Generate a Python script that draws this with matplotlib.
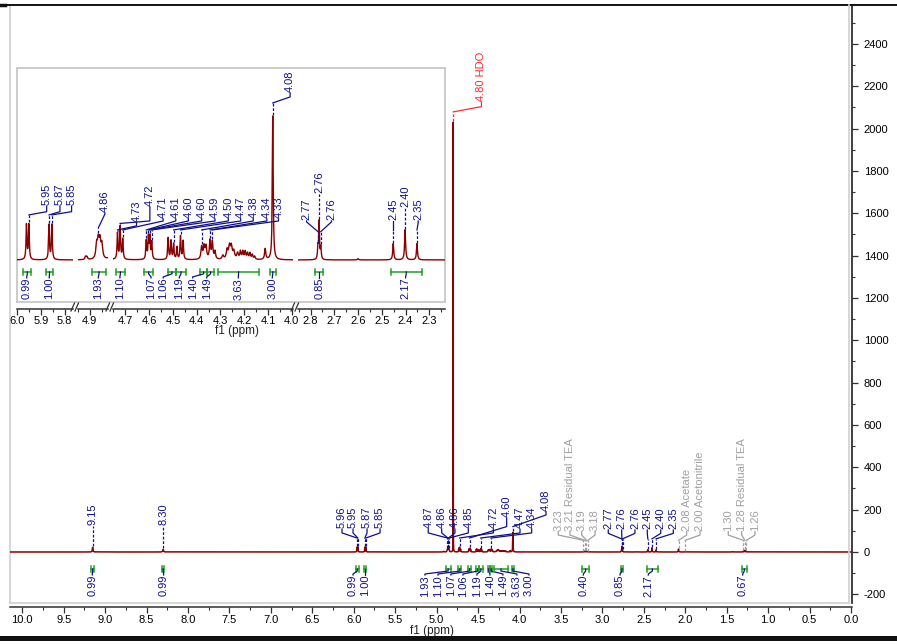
import numpy as np
import matplotlib
matplotlib.use("Agg")
import matplotlib.pyplot as plt
from matplotlib.ticker import MultipleLocator, FormatStrFormatter

plt.rcParams["font.family"] = ["Liberation Sans", "DejaVu Sans"]
plt.rcParams["font.size"] = 8
plt.rcParams["axes.unicode_minus"] = False

# ---------------- 1H signals: shift (ppm), height, half width (ppm) ----------------
sig_ppm = [9.150, 8.300,
           5.961, 5.951, 5.866, 5.854,
           4.918, 4.912, 4.871, 4.864, 4.857, 4.849,
           4.800,
           4.733, 4.722, 4.711,
           4.612, 4.603, 4.597, 4.589,
           4.520, 4.508, 4.497, 4.483, 4.468, 4.457,
           4.379, 4.369, 4.361, 4.344, 4.334, 4.323,
           4.290, 4.272, 4.262, 4.254, 4.244, 4.228, 4.216, 4.206, 4.196, 4.186,
           4.176, 4.166, 4.156,
           4.112, 4.080,
           3.228, 3.210, 3.192, 3.176,
           2.769, 2.764, 2.757, 2.600,
           2.452, 2.402, 2.352,
           2.081, 2.001, 1.430,
           1.298, 1.281, 1.263]
sig_height = [22, 12,
              22.5, 22.5, 22.5, 22.5,
              2.0, 1.8, 9, 11, 11, 9,
              2030,
              17, 21, 13,
              12, 14, 14, 11,
              14, 12, 10, 8, 15, 12,
              8, 8, 8, 12, 11, 5,
              2.5, 6, 8, 8, 5, 4, 5, 5, 5, 4,
              4, 3, 2,
              7, 93,
              2, 4, 4, 2,
              8, 24, 8, 0.8,
              10.5, 19.5, 10.5,
              14, 2, 1.5,
              4, 8, 4]
sig_hwhm = [0.004, 0.005,
            0.0022, 0.0022, 0.0022, 0.0022,
            0.003, 0.003, 0.004, 0.004, 0.004, 0.004,
            0.0005,
            0.0022, 0.0022, 0.0022,
            0.0022, 0.0022, 0.0022, 0.0022,
            0.0022, 0.0022, 0.0022, 0.0022, 0.0022, 0.0022,
            0.0035, 0.0035, 0.0035, 0.003, 0.003, 0.003,
            0.004, 0.004, 0.004, 0.004, 0.004, 0.004, 0.003, 0.003, 0.003, 0.003,
            0.003, 0.003, 0.003,
            0.003, 0.0022,
            0.003, 0.003, 0.003, 0.003,
            0.0022, 0.0018, 0.0022, 0.003,
            0.0025, 0.0025, 0.0025,
            0.003, 0.003, 0.004,
            0.003, 0.003, 0.003]

# ---------------- annotated shifts ----------------
main_lab_ppm = [9.150, 8.300, 5.961, 5.951, 5.866, 5.854, 4.871, 4.864, 4.857, 4.849,
                4.722, 4.603, 4.468, 4.344, 4.080, 2.769, 2.764, 2.757, 2.452, 2.402, 2.352]
grey_lab_ppm = [3.228, 3.210, 3.192, 3.176, 2.081, 2.001, 1.298, 1.281, 1.263]
grey_lab_name = ["", "Residual TEA", "", "", "Acetate", "Acetonitrile", "", "Residual TEA", ""]
solvent_ppm = 4.800
solvent_name = "HDO"
inset_lab_ppm = [5.951, 5.866, 5.854, 4.864, 4.733, 4.722, 4.711, 4.612, 4.603, 4.597, 4.589,
                 4.497, 4.468, 4.379, 4.344, 4.334, 4.080, 2.769, 2.764, 2.757, 2.452, 2.402, 2.352]

# ---------------- integrals ----------------
int_lo = [9.165, 8.315, 5.975, 5.880, 4.890, 4.740, 4.620, 4.521, 4.487, 4.386, 4.356, 4.310,
          4.092, 3.245, 2.780, 2.463, 1.320]
int_hi = [9.135, 8.285, 5.940, 5.848, 4.832, 4.702, 4.584, 4.487, 4.445, 4.356, 4.327, 4.138,
          4.068, 3.160, 2.748, 2.331, 1.255]
int_val = [0.99, 0.99, 0.99, 1.00, 1.93, 1.10, 1.07, 1.06, 1.19, 1.40, 1.49, 3.63, 3.00,
           0.40, 0.85, 2.17, 0.67]

# ---------------- label placement (ppm of label anchor, connector heights) ----------------
main_lab_x = [9.150, 8.300, 6.142, 6.009, 5.840, 5.683, 5.101, 4.939, 4.779, 4.618,
              4.316, 4.155, 3.994, 3.853, 3.680, 2.929, 2.767, 2.607, 2.458, 2.296, 2.144]
main_lab_y = [(124, 124, 124), (124, 124, 124)] + [(66, 90, 108)] * 8 + \
             [(66, 90, 108), (66, 120, 160), (66, 90, 108), (66, 90, 108), (120, 175, 190)] + \
             [(62, 88, 104)] * 6
grey_lab_x = [3.532, 3.391, 3.250, 3.089, 1.983, 1.822, 1.481, 1.319, 1.159]
grey_lab_y = (55, 80, 96)
solvent_lab_x = 4.459
solvent_lab_y = (2079, 2104, 2127)
inset_lab_x = [5.876, 5.820, 5.771, 4.836, 4.653, 4.597, 4.541, 4.488, 4.435, 4.379, 4.323,
               4.267, 4.215, 4.162, 4.105, 4.056, 4.007, 2.817, 2.764, 2.712, 2.452, 2.402, 2.347]
inset_lab_y = [(29.1, 31.2, 34.9)] * 3 + [(20.7, 29.7, 30.4)] + \
              [(19.4, 22.0, 23.9), (19.4, 25.2, 34.3)] + [(19.4, 25.2, 26.5)] * 10 + \
              [(101.5, 105.4, 108.0)] + \
              [(18.3, 24.6, 25.2), (42.7, 42.7, 42.7), (18.3, 24.6, 25.2),
               (19.4, 23.9, 25.2), (33.6, 33.6, 33.6), (19.4, 23.9, 25.2)]
main_int_x = [9.155, 8.294, 6.009, 5.864, 5.141, 4.984, 4.828, 4.683, 4.514, 4.357, 4.200,
              4.031, 3.886, 3.230, 2.787, 2.446, 1.307]
inset_int_idx = [2, 3, 4, 5, 6, 7, 8, 9, 10, 11, 12, 14, 15]
inset_int_x = [5.960, 5.865, 4.864, 4.723, 4.592, 4.541, 4.473, 4.417, 4.358, 4.225, 4.082,
               2.764, 2.400]

# ---------------- colours ----------------
RED = "#8b0000"
NAVY = "#10108a"
GREY = "#a0a0a0"
GREEN = "#22a022"
FRAME = "#d0d0d0"
AXC = "#303030"

W, H = 897, 644


def px_box(x0, y0, x1, y1):
    return [x0 / W, 1 - y1 / H, (x1 - x0) / W, (y1 - y0) / H]


def spec(x):
    x = np.asarray(x, dtype=float)
    y = np.zeros_like(x)
    for p, h, w in zip(sig_ppm, sig_height, sig_hwhm):
        y += h * w ** 2 / ((x - p) ** 2 + w ** 2)
    return y


x = np.union1d(np.arange(-0.02, 10.16, 0.0004), np.array(sig_ppm))
y = spec(x)


def peak_label(axis, ppm, text, xl, levels, color, upp):
    top = float(spec([ppm])[0])
    a, b, c = levels
    a = max(a, top + 2 * upp)
    b = max(b, a)
    c = max(c, b)
    axis.plot([ppm, ppm], [top + 1.0 * upp, a], color=color, lw=0.9,
              ls=(0, (2.2, 1.4)), clip_on=False, zorder=4)
    axis.plot([ppm, xl, xl], [a, b, c], color=color, lw=0.9, clip_on=False, zorder=4)
    axis.text(xl, c + 1.0 * upp, text, rotation=90, ha="center", va="bottom",
              color=color, fontsize=8, zorder=5)


def integral(axis, lo, hi, val, xl, yg, cap, ya, yb, ytop):
    axis.plot([lo, hi], [yg, yg], color=GREEN, lw=1.1, clip_on=False, zorder=4)
    for e in (lo, hi):
        axis.plot([e, e], [yg - cap, yg + cap], color=GREEN, lw=1.1, clip_on=False, zorder=4)
    mid = 0.5 * (lo + hi)
    axis.plot([mid, mid, xl, xl], [yg, ya, yb, ytop], color=NAVY, lw=0.9,
              clip_on=False, zorder=4)
    axis.text(xl, ytop, f"{val:.2f}", rotation=90, ha="center", va="top",
              color=NAVY, fontsize=8, zorder=5)


fig = plt.figure(figsize=(W / 100, H / 100), dpi=100)

# ---------------- full spectrum ----------------
ax = fig.add_axes(px_box(10, 5, 852, 603), zorder=0)
ax.set_xlim(10.148, -0.012)
ax.set_ylim(-241, 2584)
UPP = 2825 / 598
ax.plot(x, y, color=RED, lw=1.1, zorder=3)

ax.spines["top"].set_visible(False)
ax.spines["left"].set_color(FRAME)
ax.spines["left"].set_linewidth(1.2)
ax.spines["right"].set_color(AXC)
ax.spines["right"].set_linewidth(1.3)
ax.spines["bottom"].set_color(AXC)
ax.spines["bottom"].set_linewidth(1.1)
ax.spines["bottom"].set_position(("outward", 3))
ax.yaxis.tick_right()
ax.xaxis.set_major_locator(MultipleLocator(0.5))
ax.xaxis.set_minor_locator(MultipleLocator(0.25))
ax.xaxis.set_major_formatter(FormatStrFormatter("%.1f"))
ax.yaxis.set_major_locator(MultipleLocator(200))
ax.yaxis.set_minor_locator(MultipleLocator(100))
ax.tick_params(axis="both", which="major", length=4.5, width=0.9, color=AXC,
               labelsize=8, pad=1.2, direction="out")
ax.tick_params(axis="both", which="minor", length=2.5, width=0.8, color=AXC, direction="out")
ax.tick_params(axis="y", pad=4)

for ppm, xl, lv in zip(main_lab_ppm, main_lab_x, main_lab_y):
    peak_label(ax, ppm, f"{ppm:.2f}", xl, lv, NAVY, UPP)
for ppm, name, xl in zip(grey_lab_ppm, grey_lab_name, grey_lab_x):
    txt = f"{ppm:.2f}" + (f" {name}" if name else "")
    peak_label(ax, ppm, txt, xl, grey_lab_y, GREY, UPP)
peak_label(ax, solvent_ppm, f"{solvent_ppm:.2f} {solvent_name}", solvent_lab_x,
           solvent_lab_y, "#ff2a2a", UPP)

for lo, hi, v, xl in zip(int_lo, int_hi, int_val, main_int_x):
    integral(ax, lo, hi, v, xl, -80.3, 13, -90, -104, -108.7)

# ---------------- expanded inset ----------------
bg = fig.add_axes(px_box(17, 68, 445, 302), zorder=2)
bg.set_xticks([])
bg.set_yticks([])
for s in bg.spines.values():
    s.set_color("#c8c8c8")
    s.set_linewidth(1.3)

seg_px = [(17, 73), (78, 108), (113, 293), (298, 445)]
seg_lim = [(6.001, 5.765), (4.950, 4.823), (4.752, 3.995), (2.853, 2.234)]
IYL = (-27.2, 124.1)
IUPP = (IYL[1] - IYL[0]) / 234
segs = []
for (x0, x1), lim in zip(seg_px, seg_lim):
    a = fig.add_axes(px_box(x0, 68, x1, 302), zorder=3)
    a.patch.set_visible(False)
    a.set_xlim(*lim)
    a.set_ylim(*IYL)
    for s in ("left", "right", "top"):
        a.spines[s].set_visible(False)
    a.spines["bottom"].set_position(("outward", 5))
    a.spines["bottom"].set_color(AXC)
    a.spines["bottom"].set_linewidth(1.1)
    a.set_yticks([])
    a.xaxis.set_major_locator(MultipleLocator(0.1))
    a.xaxis.set_minor_locator(MultipleLocator(0.05))
    a.xaxis.set_major_formatter(FormatStrFormatter("%.1f"))
    a.tick_params(axis="x", which="major", length=4, width=0.9, color=AXC,
                  labelsize=8, pad=1.2, direction="out")
    a.tick_params(axis="x", which="minor", length=2.2, width=0.8, color=AXC, direction="out")
    a.plot(x, y, color=RED, lw=1.0, zorder=3)
    segs.append(a)


def seg_of(ppm):
    for a, (hi, lo) in zip(segs, seg_lim):
        if lo <= ppm <= hi:
            return a
    return segs[-1]


for ppm, xl, lv in zip(inset_lab_ppm, inset_lab_x, inset_lab_y):
    peak_label(seg_of(ppm), ppm, f"{ppm:.2f}", xl, lv, NAVY, IUPP)

for k, xl in zip(inset_int_idx, inset_int_x):
    lo, hi = int_lo[k], int_hi[k]
    integral(seg_of(0.5 * (lo + hi)), lo, hi, int_val[k], xl, -7.76, 1.7, -9.0, -11.0, -11.6)

# ---------------- frame lines, axis breaks and titles ----------------
ov = fig.add_axes([0, 0, 1, 1], zorder=6)
ov.set_xlim(0, W)
ov.set_ylim(H, 0)
ov.axis("off")
ov.patch.set_visible(False)
ov.plot([0, W], [5, 5], color="#111111", lw=1.4)
ov.plot([0, 5], [5, 5], color="#111111", lw=2.5)
ov.fill_between([0, W], 636, 641, color="#111111", lw=0)
ov.plot([848.5, 848.5], [5, 603], color=FRAME, lw=1.2)
ov.plot([10, 848.5], [603, 603], color=FRAME, lw=1.2)
for cx in (75.5, 110.5, 295.5):
    ov.plot([cx - 4.5, cx - 1], [311, 303], color=AXC, lw=0.9)
    ov.plot([cx - 0.5, cx + 3], [311, 303], color=AXC, lw=0.9)
ov.text(432, 631, "f1 (ppm)", ha="center", va="center", fontsize=8.5, color="#222222")
ov.text(237, 331, "f1 (ppm)", ha="center", va="center", fontsize=8.5, color="#222222")

fig.savefig("out.png", dpi=100)
